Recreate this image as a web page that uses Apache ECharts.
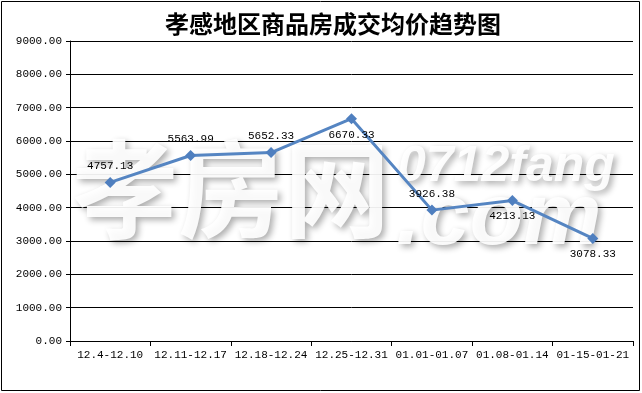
<!DOCTYPE html>
<html><head><meta charset="utf-8">
<script src="https://cdn.jsdelivr.net/npm/echarts@6/dist/echarts.min.js"></script>
<style>html,body{margin:0;padding:0;background:#fff}#c{width:642px;height:393px}</style>
</head><body><div id="c"></div>
<script>
const titleText = '孝感地区商品房成交均价趋势图';
const categories = ['12.4-12.10','12.11-12.17','12.18-12.24','12.25-12.31','01.01-01.07','01.08-01.14','01-15-01-21'];
const values = [4757.13, 5563.99, 5652.33, 6670.33, 3926.38, 4213.13, 3078.33];
const labelPositions = ['top','top','top','bottom','top','bottom','bottom'];
const yTicks = {min: 0, max: 9000, interval: 1000};

const mono = '"Liberation Mono","DejaVu Sans Mono",monospace';
const chart = echarts.init(document.getElementById('c'));
chart.setOption({
  animation: false,
  backgroundColor: '#fff',
  title: {text: titleText, left: 160, top: 7,
    textStyle: {fontFamily: '"Noto Sans CJK SC"', fontSize: 24, fontWeight: 'bold', color: '#000'}},
  grid: {left: 70, right: 9, top: 41, bottom: 52},
  xAxis: {type: 'category', data: categories, boundaryGap: true,
    axisLine: {lineStyle: {color: '#000', width: 1}},
    axisTick: {show: true, length: 5, lineStyle: {color: '#000'}},
    axisLabel: {color: '#000', fontFamily: mono, fontSize: 11, margin: 9, interval: 0}},
  yAxis: {type: 'value', min: yTicks.min, max: yTicks.max, interval: yTicks.interval,
    axisLine: {show: true, lineStyle: {color: '#000'}},
    axisTick: {show: true, length: 4, lineStyle: {color: '#000'}},
    splitLine: {lineStyle: {color: '#000', width: 1}},
    axisLabel: {color: '#000', fontFamily: mono, fontSize: 11, margin: 8,
      formatter: v => v.toFixed(2)}},
  graphic: [
    {type: 'text', z: 1, left: 72, top: 136, style: {text: '孝房网', font: 'bold 106px "Noto Sans CJK SC"',
      fill: '#ffffff', opacity: 0.92, textShadowColor: 'rgba(0,0,0,0.35)', textShadowBlur: 6, textShadowOffsetX: 3, textShadowOffsetY: 3}},
    {type: 'text', z: 1, left: 398, top: 142, style: {text: '0712fang', font: 'italic bold 50px "Liberation Sans"',
      fill: '#ffffff', opacity: 0.92, textShadowColor: 'rgba(0,0,0,0.35)', textShadowBlur: 6, textShadowOffsetX: 3, textShadowOffsetY: 3}},
    {type: 'text', z: 1, left: 396, top: 176, style: {text: '.com', font: 'italic bold 88px "Liberation Sans"',
      fill: '#ffffff', opacity: 0.92, textShadowColor: 'rgba(0,0,0,0.35)', textShadowBlur: 6, textShadowOffsetX: 3, textShadowOffsetY: 3}},
    {type: 'rect', z: 10, shape: {x: 1.5, y: 1.5, width: 638, height: 389},
      style: {fill: 'none', stroke: '#000', lineWidth: 1}}
  ],
  series: [{
    type: 'line', z: 3, data: values.map((v, i) => ({value: v, label: {position: labelPositions[i]}})),
    symbol: 'diamond', symbolSize: 11,
    lineStyle: {color: '#5585c2', width: 3},
    itemStyle: {color: '#4f7fbf'},
    label: {show: true, color: '#000', fontFamily: mono, fontSize: 11, distance: 5,
      formatter: p => p.value.toFixed(2)}
  }]
});
</script></body></html>
